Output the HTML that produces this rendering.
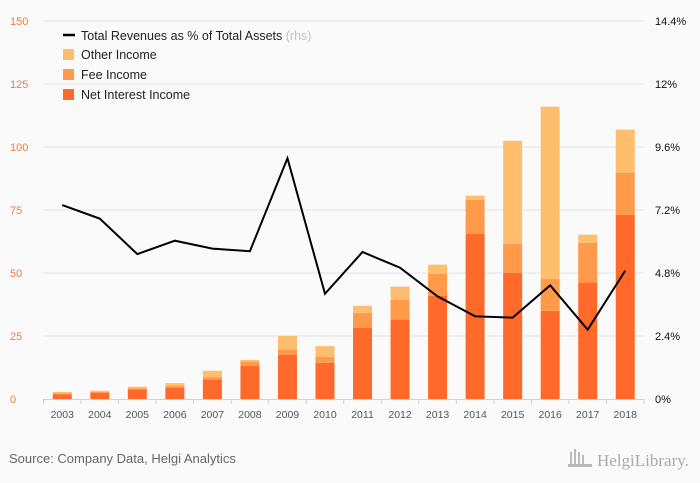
<!DOCTYPE html>
<html><head><meta charset="utf-8"><style>
body{margin:0;background:#fafafa;font-family:"Liberation Sans","DejaVu Sans",sans-serif}
svg{display:block}
</style></head><body>
<svg id="c" width="700" height="483" viewBox="0 0 700 483" xmlns="http://www.w3.org/2000/svg">
<rect width="700" height="483" fill="#fafafa"/>
<g id="grid"></g><g id="bars"></g><g id="line"></g><g id="axes"></g>
<g font-size="12.5" fill="#222">
<line x1="63" y1="35" x2="75" y2="35" stroke="#000" stroke-width="2.5"/>
<text x="81" y="40">Total Revenues as % of Total Assets <tspan fill="#c4c4c4">(rhs)</tspan></text>
<rect x="63" y="49" width="11" height="11" fill="#ffbe6e"/><text x="81" y="59">Other Income</text>
<rect x="63" y="69" width="11" height="11" fill="#ff9a4a"/><text x="81" y="79">Fee Income</text>
<rect x="63" y="89" width="11" height="11" fill="#ff6a2a"/><text x="81" y="99">Net Interest Income</text>
</g>
<text x="9" y="463" font-size="13" fill="#666">Source: Company Data, Helgi Analytics</text>
<text x="597" y="466" font-size="17" fill="#aaa" font-family="Liberation Serif,serif">HelgiLibrary.</text>
<g fill="#bbb"><rect x="570" y="452" width="2" height="14"/><rect x="574" y="449" width="2" height="17"/><rect x="578" y="452" width="2" height="14"/><rect x="582" y="455" width="2" height="11"/><rect x="568" y="464" width="24" height="3"/></g>
</svg>
<script>
const years=["2003","2004","2005","2006","2007","2008","2009","2010","2011","2012","2013","2014","2015","2016","2017","2018"];
const netInterest=[1.8,2.4,3.8,4.5,7.7,13.2,17.6,14.4,28.3,31.5,41.0,65.6,50.1,35.0,46.2,73.1];
const feeIncome=[0.5,0.4,0.4,0.7,1.0,1.5,2.0,2.4,5.9,7.9,8.7,13.5,11.5,12.7,15.8,16.7];
const otherIncome=[0.5,0.5,0.7,1.1,2.5,0.8,5.5,4.2,2.8,5.2,3.6,1.6,40.9,68.3,3.2,17.1];
const ratioPct=[7.39,6.87,5.52,6.03,5.73,5.63,9.17,4.01,5.60,5.00,3.91,3.15,3.10,4.33,2.64,4.89];
const leftTicks=[0,25,50,75,100,125,150];
const rightTicks=["0%","2.4%","4.8%","7.2%","9.6%","12%","14.4%"];
const rightVals=[0,2.4,4.8,7.2,9.6,12,14.4];
const NS="http://www.w3.org/2000/svg";
const X0=43.5,X1=644,Y0=399,Y1=21;
const band=(X1-X0)/years.length;
const xc=i=>X0+band*(i+0.5);
const yL=v=>Y0-(v/150)*(Y0-Y1);
const yR=v=>Y0-(v/14.4)*(Y0-Y1);
function mk(tag,attrs,parent,txt){const e=document.createElementNS(NS,tag);for(const k in attrs)e.setAttribute(k,attrs[k]);if(txt!==undefined)e.textContent=txt;document.getElementById(parent).appendChild(e);return e;}
leftTicks.forEach((v,i)=>{
  if(v>0){const g=mk('line',{x1:X0,x2:X1,y1:yL(v),y2:yL(v),stroke:'#e4e4e4','stroke-width':1},'grid');
  
  }
  const t=mk('text',{x:10,y:yL(v)+4,'font-size':11,fill:'#f47c3c'},'axes',String(v));
  
  
  const r=mk('text',{x:655,y:yR(rightVals[i])+4,'font-size':11,fill:'#111'},'axes',rightTicks[i]);
  
  
});
const bw=19;
years.forEach((yr,i)=>{
  const segs=[[netInterest[i],'#ff6a2a','bar-net-interest'],[feeIncome[i],'#ff9a4a','bar-fee'],[otherIncome[i],'#ffbe6e','bar-other']];
  let base=0;
  segs.forEach(s=>{
    const r=mk('rect',{x:xc(i)-bw/2,y:yL(base+s[0]),width:bw,height:yL(base)-yL(base+s[0]),fill:s[1]},'bars');
    
    
    base+=s[0];
  });
  const t=mk('text',{x:xc(i),y:418,'font-size':10.5,fill:'#555','text-anchor':'middle'},'axes',yr);
  
  
});
for(let i=0;i<=years.length;i++){
  const x=X0+band*i;
  const l=mk('line',{x1:x,x2:x,y1:Y0,y2:Y0+5,stroke:'#c8d3e6'},'axes');
  
  
}
const ax=mk('line',{x1:X0,x2:X1,y1:Y0+0.5,y2:Y0+0.5,stroke:'#c8d3e6'},'axes');


const pts=ratioPct.map((v,i)=>xc(i)+','+yR(v)).join(' ');
const pl=mk('polyline',{points:pts,fill:'none',stroke:'#000','stroke-width':2,'stroke-linejoin':'miter'},'line');


</script>
</body></html>
